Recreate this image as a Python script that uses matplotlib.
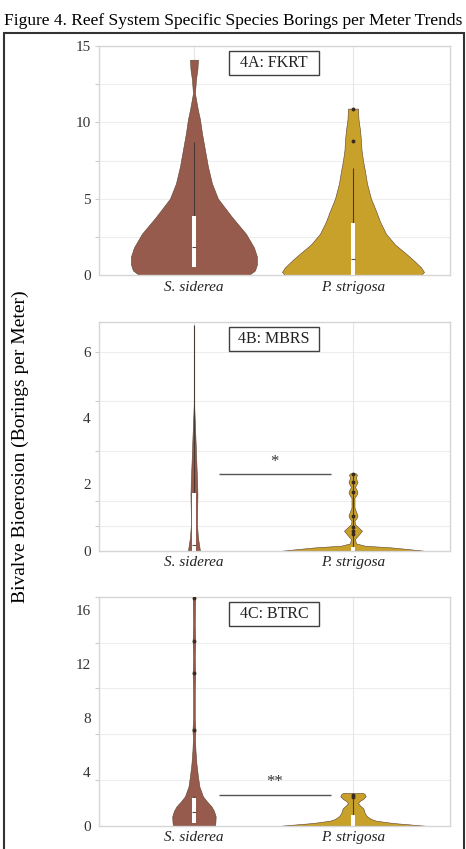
import matplotlib
matplotlib.use("Agg")
import matplotlib.pyplot as plt
from matplotlib.patches import Rectangle

plt.rcParams['font.family'] = ['Liberation Serif', 'DejaVu Serif']

# categorias
species = ['S. siderea', 'P. strigosa']
panels = ['4A: FKRT', '4B: MBRS', '4C: BTRC']
colors = ['#975b4d', '#c8a12b']

# perfiles de densidad (nivel, media anchura en px)
a_sid_lvl = [0, 0.3, 0.7, 1.2, 1.8, 2.7, 3.8, 5.0, 6.0, 7.1, 8.2, 9.3, 10.2, 10.8, 11.9, 12.8, 13.5, 14.1]
a_sid_w = [55, 61, 63, 63, 60, 52, 38, 24, 18, 14, 11, 8, 6, 4, 1, 2, 3.5, 4]
a_str_lvl = [0, 0.2, 0.5, 1.0, 1.4, 2.0, 2.7, 3.5, 4.2, 5.0, 6.0, 6.8, 7.5, 8.2, 8.8, 9.5, 10.2, 10.9]
a_str_w = [68, 71, 68, 60, 53, 42, 33, 27, 23, 18, 14, 12, 10, 8.5, 8, 7, 5.5, 5]

b_sid_lvl = [0, 0.2, 0.4, 0.8, 1.2, 1.7, 2.2, 2.8, 3.4, 4.0, 4.4]
b_sid_w = [6, 5, 4, 3, 3.2, 3.5, 3, 2.2, 1.5, 0.7, 0.2]
b_str_lvl = [0, 0.05, 0.1, 0.15, 0.22, 0.35, 0.6, 0.8, 0.9, 0.98, 1.06, 1.14, 1.3, 1.6, 1.68,
             1.76, 1.84, 1.92, 2.0, 2.07, 2.14, 2.22, 2.28, 2.33]
b_str_w = [71, 55, 38, 12, 3, 2, 9, 2, 1.5, 3.5, 4.5, 3.5, 1.5, 1.5, 3.5, 4.5, 3.5, 2, 3.5, 4.5,
           3.5, 3, 4, 3]

c_sid_lvl = [0, 0.3, 0.7, 1.1, 1.43, 1.8, 2.18, 2.9, 3.65, 4.6, 5.6, 6.5, 7.1, 8.0, 10, 11.3,
             12.5, 13.7, 15, 16.9]
c_sid_w = [21, 21.5, 21.7, 20, 17.5, 13, 9, 5.5, 4, 2.5, 1.5, 1, 1.5, 0.8, 0.8, 1.3, 0.8, 1.3, 0.8, 1.2]
c_str_lvl = [0, 0.1, 0.2, 0.37, 0.5, 0.7, 0.94, 1.15, 1.31, 1.5, 1.68, 1.85, 1.98, 2.18, 2.35, 2.43]
c_str_w = [72, 56, 40, 23, 18, 14, 11.7, 11, 10, 7, 5, 7, 10, 12.7, 11.7, 10]

# cajas: q1, mediana, q3, bigote superior
a_box = [[0.5, 1.82, 3.86, 8.7], [0.0, 1.05, 3.4, 7.0]]
b_box = [[0.0, 0.18, 1.75, 6.8], [0.0, 0.0, 0.12, 2.32]]
c_box = [[0.2, 1.05, 2.05, 2.2], [0.0, 0.0, 0.8, 2.3]]

# puntos atipicos / marcas
a_pts = [[], [8.8, 10.9]]
b_pts = [[], [0.5, 0.6, 0.7, 1.06, 1.76, 2.07, 2.32]]
c_pts = [[7.1, 11.3, 13.7, 16.9], [2.1, 2.3]]

# ejes
y_max = [15, 6.9, 17]
y_labels = [[0, 5, 10, 15], [0, 2, 4, 6], [0, 4, 8, 12, 16]]
y_grid = [[2.5, 5, 7.5, 10, 12.5, 15], [0.75, 1.5, 3, 4.5, 6], [3.4, 6.8, 10.2, 13.6, 17]]

# significancia: (x0, x1, y, texto, y texto)
sig = [None, (0.157, 0.86, 2.32, '*', 2.67), (0.16, 0.86, 2.3, '**', 3.27)]

profiles = [[(a_sid_lvl, a_sid_w), (a_str_lvl, a_str_w)],
            [(b_sid_lvl, b_sid_w), (b_str_lvl, b_str_w)],
            [(c_sid_lvl, c_sid_w), (c_str_lvl, c_str_w)]]
boxes = [a_box, b_box, c_box]
points = [a_pts, b_pts, c_pts]

W, H = 466, 849
fig = plt.figure(figsize=(W / 100, H / 100), dpi=100)

axes_top = [46, 321.7, 596.7]
ax_h = 229
ax_left, ax_w = 99, 351
px_unit = 159  # pixeles por unidad de categoria

for i in range(3):
    ax = fig.add_axes([ax_left / W, 1 - (axes_top[i] + ax_h) / H, ax_w / W, ax_h / H])
    ax.set_xlim(-0.597, 1.61)
    ax.set_ylim(0, y_max[i])
    for s in ax.spines.values():
        s.set_color('#d6d6d6')
        s.set_linewidth(1)
    for g in y_grid[i]:
        ax.axhline(g, color='#ededed', lw=0.8, zorder=0)
    for x in [0, 1]:
        ax.axvline(x, color='#e6e6e6', lw=0.8, zorder=0)

    for j in range(2):
        lvl, w = profiles[i][j]
        hw = [v / px_unit for v in w]
        ax.fill_betweenx(lvl, [j - v for v in hw], [j + v for v in hw],
                         color=colors[j], ec='#5a4030', lw=0.4, zorder=2)
        q1, med, q3, wt = boxes[i][j]
        ax.vlines(j, q3, wt, color='#4a3a33', lw=0.8, zorder=3)
        ax.bar(j, q3 - q1, bottom=q1, width=0.026, color='white', ec='none', zorder=4)
        ax.hlines(med, j - 0.013, j + 0.013, color='#5a4a40', lw=0.8, zorder=5)
        if points[i][j]:
            ax.plot([j] * len(points[i][j]), points[i][j], 'o', ms=1.8,
                    color='#3a2a20', zorder=5)

    if sig[i]:
        x0, x1, yl, txt, yt = sig[i]
        ax.hlines(yl, x0, x1, color='#555555', lw=1, zorder=3)
        ax.text((x0 + x1) / 2, yt, txt, ha='center', va='center', fontsize=12, color='#333333')

    ax.add_patch(Rectangle((0.37, 0.872), 0.257, 0.106, transform=ax.transAxes,
                           fill=True, fc='white', ec='#404040', lw=1, zorder=6))
    ax.text(0.4985, 0.925, panels[i], transform=ax.transAxes, ha='center', va='center',
            fontsize=11.5, color='#222222', zorder=7)

    # marcas en la rejilla, etiquetas en otros valores
    ax.yaxis.remove_overlapping_locs = False
    ax.set_yticks(y_grid[i])
    ax.set_yticklabels([])
    ax.set_yticks(y_labels[i], minor=True)
    ax.set_yticklabels([str(v) for v in y_labels[i]], minor=True, fontsize=11, color='#333333')
    ax.tick_params(axis='y', which='major', length=3, color='#cccccc')
    ax.tick_params(axis='y', which='minor', length=0, pad=6)
    ax.set_xticks([0, 1])
    ax.set_xticklabels(species, fontsize=11, style='italic', color='#222222')
    ax.tick_params(axis='x', length=0, pad=4)

fig.text(0.5, 1 - 21 / H, 'Figure 4. Reef System Specific Species Borings per Meter Trends',
         ha='center', va='center', fontsize=12.5)
fig.text(20 / W, 1 - 447 / H, 'Bivalve Bioerosion (Borings per Meter)', rotation=90,
         ha='center', va='center', fontsize=14)
fig.add_artist(Rectangle((3.5 / W, -0.01), 460 / W, (H - 33) / H + 0.01,
                         transform=fig.transFigure, fill=False, lw=1.5, ec='#333333'))

fig.savefig('out.png', dpi=100)
